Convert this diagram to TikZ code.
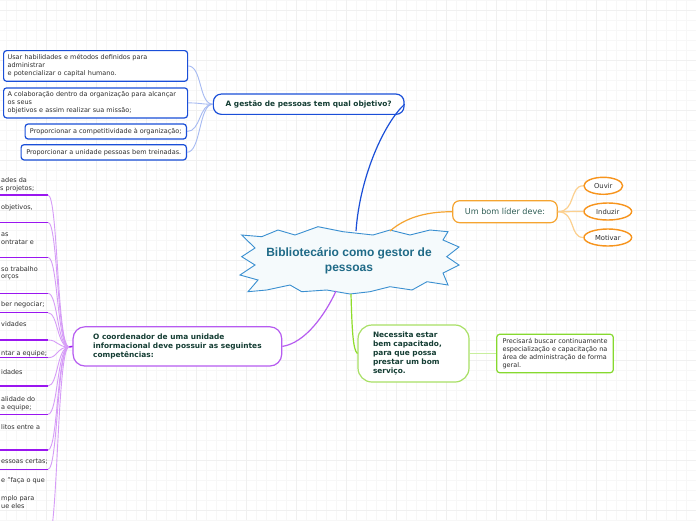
\documentclass[tikz,border=0pt]{standalone}
\usepackage{fontspec}
\setmainfont{DejaVu Sans}
\newfontfamily\titlefont{Liberation Sans}
\usetikzlibrary{shapes.geometric}
\definecolor{bluebd}{HTML}{1A4FD8}
\definecolor{bluelt}{HTML}{A6BAF2}
\definecolor{starbd}{HTML}{3A8FD0}
\definecolor{starfill}{HTML}{F5FAFC}
\definecolor{titlec}{HTML}{1F6A87}
\definecolor{txt}{HTML}{2E2E2E}
\definecolor{brtxt}{HTML}{143D33}
\definecolor{orbd}{HTML}{F5A430}
\definecolor{orell}{HTML}{F7941D}
\definecolor{orlt}{HTML}{FCD08F}
\definecolor{lidertxt}{HTML}{2F5E55}
\definecolor{pubd}{HTML}{B65CF0}
\definecolor{pudk}{HTML}{9A16F0}
\definecolor{pult}{HTML}{D69CF7}
\definecolor{grbd}{HTML}{A8E065}
\definecolor{grbox}{HTML}{86D92F}
\definecolor{grmain}{HTML}{8FDC2A}
\definecolor{grlt}{HTML}{C8EF9E}
\definecolor{gridminor}{HTML}{F7F7F7}
\definecolor{gridmajor}{HTML}{F0F0F0}
\tikzset{
  leafb/.style={draw=bluebd, line width=1.2pt, rounded corners=3pt, fill=white,
    font=\fontsize{6.5}{8}\selectfont, text=txt, align=left, inner xsep=4pt, inner ysep=0pt},
  branchq/.style={draw=bluebd, line width=1.2pt, rounded corners=8pt, fill=white,
    font=\fontsize{7.4}{9}\selectfont\bfseries, text=brtxt, inner sep=0pt},
  lider/.style={draw=orbd, line width=1.2pt, rounded corners=7pt, fill=white,
    font=\fontsize{8.1}{10}\selectfont, text=lidertxt, inner sep=0pt},
  ell/.style={ellipse, draw=orell, line width=1.4pt, fill=white, inner sep=0pt,
    font=\fontsize{6.8}{8}\selectfont, text=txt},
  coordn/.style={draw=pubd, line width=1.2pt, rounded corners=12pt, fill=white,
    font=\fontsize{7.4}{8.7}\selectfont\bfseries, text=brtxt, align=left, inner sep=0pt},
  necn/.style={draw=grbd, line width=1.2pt, rounded corners=14pt, fill=white,
    font=\fontsize{7.4}{8.9}\selectfont\bfseries, text=brtxt, align=left, inner xsep=15pt, inner ysep=0pt},
  preb/.style={draw=grbox, line width=1.2pt, rounded corners=3pt, fill=white,
    font=\fontsize{6.5}{8}\selectfont, text=txt, align=left, inner sep=0pt},
  frag/.style={anchor=west, inner sep=0pt, font=\fontsize{6.5}{8}\selectfont, text=txt},
  uline/.style={draw=pudk, line width=1.3pt},
  pucon/.style={draw=pult, line width=0.9pt},
  blcon/.style={draw=bluelt, line width=0.9pt},
  orcon/.style={draw=orlt, line width=1.2pt},
}
\begin{document}
\begin{tikzpicture}[x=1pt,y=-1pt]
\useasboundingbox (0,0) rectangle (696,520);
\clip (0,0) rectangle (696,520);
\fill[white] (0,0) rectangle (696,520);
% faint background grid
\foreach \gx in {6,16,...,696} \draw[gridminor, line width=0.5pt] (\gx,0) -- (\gx,520);
\foreach \gy in {0,10,...,520} \draw[gridminor, line width=0.5pt] (0,\gy) -- (696,\gy);
\foreach \gx in {46,96,...,696} \draw[gridmajor, line width=0.6pt] (\gx,0) -- (\gx,520);
\foreach \gy in {10,60,...,520} \draw[gridmajor, line width=0.6pt] (0,\gy) -- (696,\gy);

% ---------- central burst ----------
\draw[draw=starbd, fill=starfill, line width=0.9pt]
  (241.7,235) -- (261.7,236.7) -- (278,230) -- (295,235) -- (318,226.7) -- (343,231.7)
  -- (373,235) -- (390,230) -- (410,235) -- (430,230) -- (448,231.7) -- (443,240)
  -- (459,247) -- (446.7,256.7) -- (459,265) -- (443,273) -- (448,285) -- (427,281.7)
  -- (412,290) -- (390,286.7) -- (370,291.7) -- (350,294) -- (326.7,290) -- (301.7,291.7)
  -- (290,285) -- (266.7,290) -- (248,291.7) -- (258,280) -- (240,275) -- (255,265)
  -- (241.7,256.7) -- (255,248) -- cycle;
\node[align=center, inner sep=0pt, text=titlec, font=\titlefont\fontsize{12}{15}\selectfont\bfseries]
  (center) at (349,260.5) {Bibliotecário como gestor de\\pessoas};
\coordinate (sTop) at (356,231);
\coordinate (sOr) at (390,231);
\coordinate (sPu) at (336,291);
\coordinate (sGr) at (351,294);

% ---------- blue branch ----------
\node[branchq, minimum width=190.7pt, minimum height=20.3pt] (q) at (308.7,104.2)
  {A gestão de pessoas tem qual objetivo?};
\node[leafb, text width=176pt, minimum height=30.7pt, anchor=north west] (b1) at (3,50)
  {Usar habilidades e métodos definidos para\\administrar\\e potencializar o capital humano.};
\node[leafb, text width=176pt, minimum height=30pt, anchor=north west] (b2) at (3,87.3)
  {A colaboração dentro da organização para alcançar\\os seus\\objetivos e assim realizar sua missão;};
\node[leafb, minimum width=161.3pt, minimum height=15pt, anchor=east] (b3) at (187,131.5)
  {Proporcionar a competitividade à organização;};
\node[leafb, minimum width=165.3pt, minimum height=15.3pt, anchor=east] (b4) at (187,152.3)
  {Proporcionar a unidade pessoas bem treinadas.};
\foreach \b in {b1,b2,b3,b4}
  \draw[blcon] (q.west) .. controls +(-14,0) and +(14,0) .. (\b.east);
\draw[draw=bluebd, line width=1.2pt] (sTop) .. controls (360,175) and (385,122) .. (q.east);

% ---------- orange branch ----------
\node[lider, minimum width=104.6pt, minimum height=22pt] (lid) at (505,211.7) {Um bom líder deve:};
\node[ell, minimum width=38.7pt, minimum height=17pt] (o1) at (603.3,185.8) {Ouvir};
\node[ell, minimum width=47.7pt, minimum height=17pt] (o2) at (607.8,211.5) {Induzir};
\node[ell, minimum width=47.7pt, minimum height=17pt] (o3) at (607.8,237.5) {Motivar};
\foreach \o in {o1,o2,o3}
  \draw[orcon] (lid.east) .. controls +(18,0) and +(-14,0) .. (\o.west);
\draw[draw=orbd, line width=1.2pt] (sOr) .. controls (405,218) and (425,211.7) .. (lid.west);

% ---------- green branch ----------
\node[necn, text width=81pt, minimum height=57pt] (nec) at (413.5,353.5)
  {Necessita estar\\bem capacitado,\\para que possa\\prestar um bom\\serviço.};
\node[preb, minimum width=116.6pt, minimum height=38.4pt] (pre) at (555,353.5)
  {Precisará buscar continuamente\\especialização e capacitação na\\área de administração de forma\\geral.};
\draw[draw=grlt, line width=1.5pt] (nec.east) -- (pre.west);
\draw[draw=grmain, line width=1.2pt] (sGr) .. controls (352,330) and (353,350) .. (nec.west);

% ---------- purple branch ----------
\node[coordn, minimum width=208.7pt, minimum height=39.3pt] (co) at (177.4,346.4)
  {O coordenador de uma unidade\\informacional deve possuir as seguintes\\competências:};
\draw[draw=pubd, line width=1.2pt] (sPu) .. controls (325,315) and (305,343) .. (co.east);
\coordinate (hub) at (69,347);
\draw[draw=pudk, line width=1.5pt] (hub) -- (co.west);

% left items (clipped at the left edge)
\node[frag] (l1a) at (1,180) {ades da};
\node[frag] (l1b) at (0,188.3) {s projetos;};
\node[frag] (l2a) at (1,207.3) {objetivos,};
\node[frag] (l3a) at (1,234.3) {as};
\node[frag] (l3b) at (1,242.7) {ontratar e};
\node[frag] (l4a) at (1,269.3) {so trabalho};
\node[frag] (l4b) at (1,277.7) {orços};
\node[frag] (l5a) at (1,305) {ber negociar;};
\node[frag] (l6a) at (1,324.3) {vidades};
\node[frag] (l7a) at (1,353.3) {ntar a equipe;};
\node[frag] (l8a) at (1,371.7) {idades};
\node[frag] (l9a) at (1,399.3) {alidade do};
\node[frag] (l9b) at (1,407.3) {a equipe;};
\node[frag] (l10a) at (1,426.7) {litos entre a};
\node[frag] (l11a) at (1,462) {essoas certas;};
\node[frag] (l12a) at (1,481) {e "faça o que};
\node[frag] (l12b) at (1,498.3) {mplo para};
\node[frag] (l12c) at (1,506) {ue eles};

\foreach \i/\y in {1/195,2/222.3,3/257.3,4/293.3,5/312.7,6/340,7/357.7,8/386,9/414.3,10/450,11/469.3,12/540} {
  \coordinate (u\i) at (48,\y);
  \draw[uline] (-5,\y) -- (u\i);
  \draw[pucon] (u\i) .. controls +(10,0) and (57,347) .. (hub);
}
\end{tikzpicture}
\end{document}
